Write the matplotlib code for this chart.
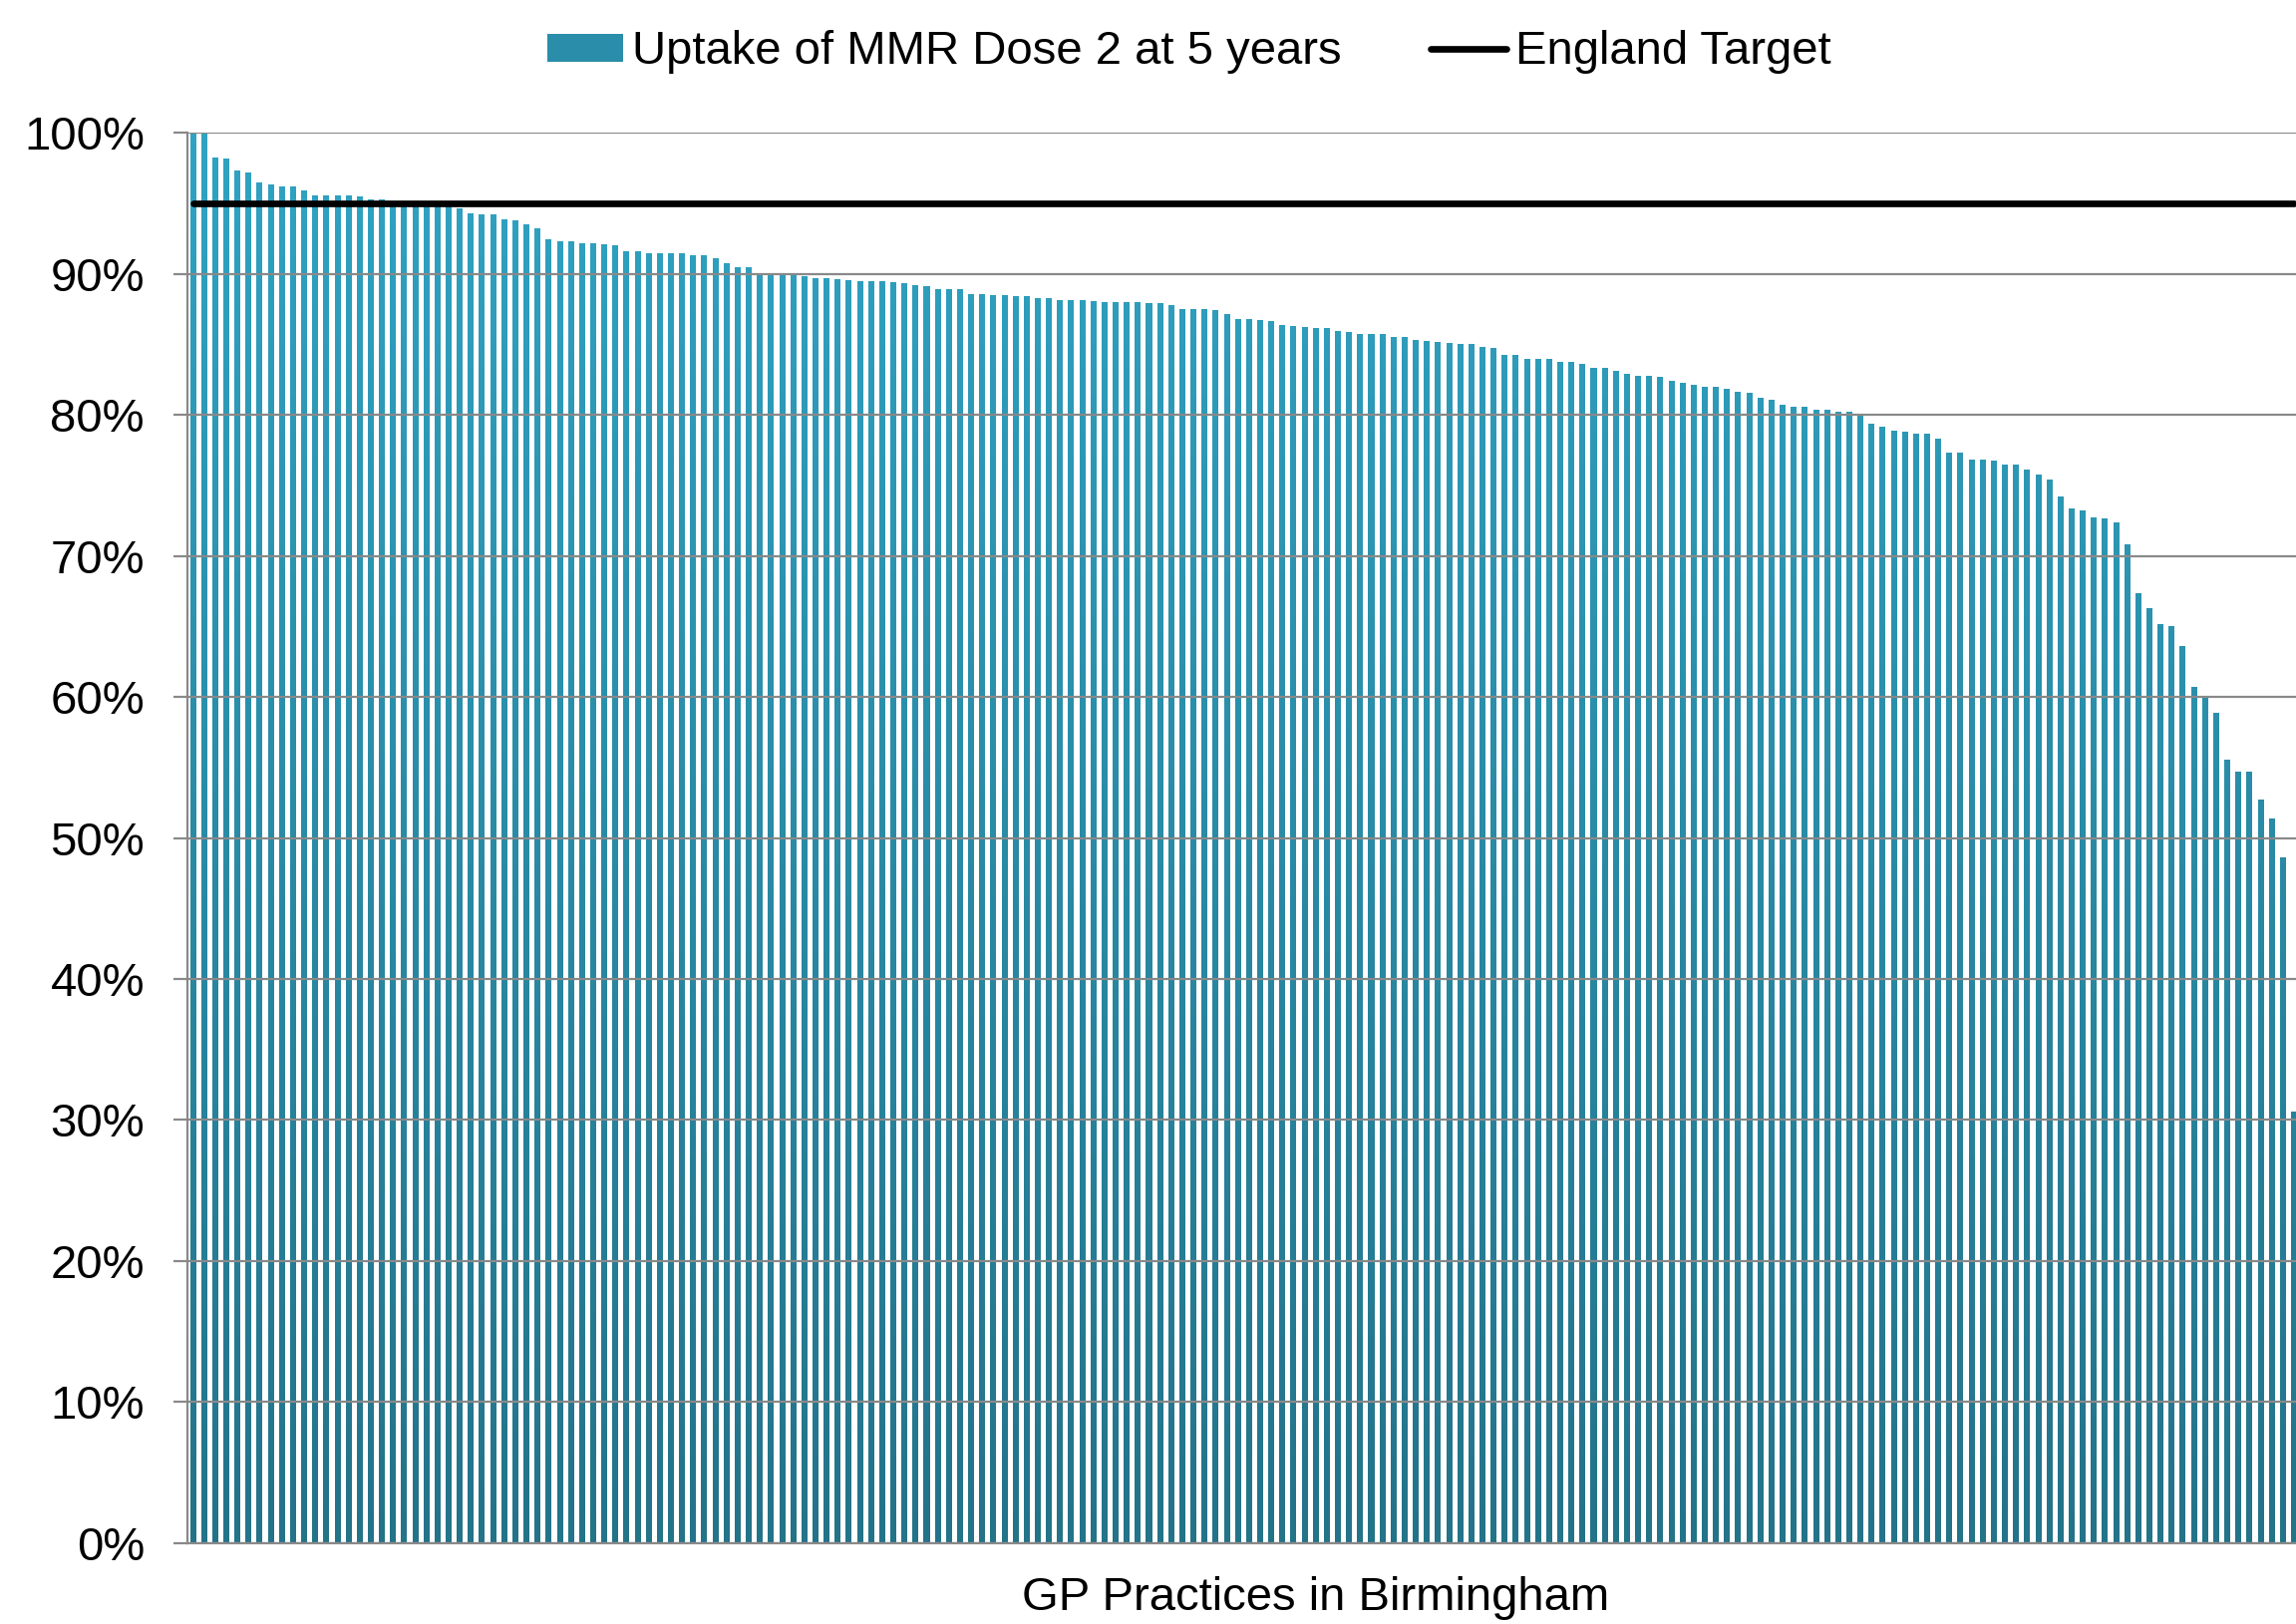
import numpy as np
import matplotlib
matplotlib.use("Agg")
import matplotlib.pyplot as plt
from matplotlib.path import Path
from matplotlib.patches import PathPatch
from matplotlib.colors import LinearSegmentedColormap

plt.rcParams['font.family'] = ['Liberation Sans', 'DejaVu Sans']

# Uptake of MMR dose 2 at 5 years, one value per GP practice (sorted, %)
uptake = [
    100.0, 100.0, 98.25, 98.2, 97.3, 97.2, 96.5, 96.35, 96.2, 96.2,
    95.9, 95.6, 95.6, 95.55, 95.55, 95.5, 95.3, 95.3, 95.1, 95.0,
    95.0, 95.0, 94.9, 94.9, 94.65, 94.3, 94.2, 94.2, 93.85, 93.8,
    93.55, 93.2, 92.45, 92.35, 92.3, 92.15, 92.15, 92.1, 92.0, 91.6,
    91.6, 91.5, 91.5, 91.45, 91.45, 91.35, 91.35, 91.1, 90.75, 90.5,
    90.5, 90.05, 90.05, 90.0, 90.0, 89.85, 89.7, 89.7, 89.65, 89.55,
    89.5, 89.5, 89.5, 89.45, 89.35, 89.2, 89.15, 88.95, 88.95, 88.95,
    88.6, 88.6, 88.5, 88.5, 88.45, 88.45, 88.3, 88.3, 88.15, 88.15,
    88.15, 88.1, 88.0, 88.0, 88.0, 88.0, 87.95, 87.95, 87.8, 87.5,
    87.5, 87.5, 87.45, 87.15, 86.8, 86.8, 86.75, 86.65, 86.4, 86.3,
    86.25, 86.15, 86.15, 85.95, 85.9, 85.75, 85.75, 85.75, 85.55, 85.55,
    85.3, 85.25, 85.2, 85.1, 85.05, 85.05, 84.8, 84.75, 84.25, 84.25,
    83.95, 83.95, 83.95, 83.75, 83.75, 83.6, 83.35, 83.35, 83.1, 82.9,
    82.75, 82.75, 82.7, 82.4, 82.25, 82.15, 82.0, 82.0, 81.85, 81.65,
    81.55, 81.25, 81.1, 80.75, 80.6, 80.55, 80.35, 80.35, 80.2, 80.2,
    80.0, 79.35, 79.15, 78.9, 78.8, 78.7, 78.7, 78.3, 77.35, 77.35,
    76.8, 76.8, 76.75, 76.5, 76.45, 76.15, 75.75, 75.45, 74.25, 73.4,
    73.25, 72.7, 72.65, 72.35, 70.8, 67.35, 66.3, 65.2, 65.0, 63.6,
    60.7, 60.0, 58.85, 55.55, 54.7, 54.7, 52.7, 51.4, 48.6, 30.6,
]
england_target = 95
n_slots = 203  # practices on the full axis (the picture is cut on the right)

y_ticks = list(range(0, 101, 10))
y_tick_labels = [f"{t}%" for t in y_ticks]

bar_light = "#30A3C3"
bar_dark = "#237389"
grid_col = "#898989"

fig = plt.figure(figsize=(23.03, 16.29), dpi=100)
ax = fig.add_axes([188 / 2303, 81.3 / 1629, (2451.5 - 188) / 2303, 1414.4 / 1629])

x = np.arange(len(uptake))
bars = ax.bar(x, uptake, width=0.54, color="#2A8DA9", linewidth=0, zorder=2,
              label="Uptake of MMR Dose 2 at 5 years")

# vertical gradient fill, clipped to the bar shapes
paths = []
for b in bars:
    x0, w, h = b.get_x(), b.get_width(), b.get_height()
    paths.append(Path([(x0, 0), (x0 + w, 0), (x0 + w, h), (x0, h), (x0, 0)],
                      [Path.MOVETO, Path.LINETO, Path.LINETO, Path.LINETO, Path.CLOSEPOLY]))
clip = PathPatch(Path.make_compound_path(*paths), transform=ax.transData)
cmap = LinearSegmentedColormap.from_list("bar_grad", [bar_dark, bar_light])
grad = np.linspace(0, 1, 256).reshape(-1, 1)
im = ax.imshow(grad, cmap=cmap, origin="lower", aspect="auto",
               extent=[-0.5, n_slots - 0.5, 0, 100], zorder=2.2)
im.set_clip_path(clip)

target_line, = ax.plot(x, np.full(len(x), england_target), color="black", linewidth=4.8,
                       solid_capstyle="round", zorder=4, label="England Target")

ax.set_xlim(-0.5, n_slots - 0.5)
ax.set_ylim(0, 100)
ax.set_yticks(y_ticks)
ax.set_yticklabels(y_tick_labels)
ax.set_xticks([])

ax.set_axisbelow(False)
ax.yaxis.grid(True, color=grid_col, linewidth=1.6, zorder=2.5)
for side in ["top", "right"]:
    ax.spines[side].set_visible(False)
for side in ["left", "bottom"]:
    ax.spines[side].set_color(grid_col)
    ax.spines[side].set_linewidth(1.6)
ax.tick_params(axis="y", length=10, width=1.6, color=grid_col, labelsize=34, pad=21)

ax.set_xlabel("GP Practices in Birmingham", fontsize=34)
ax.xaxis.set_label_coords(0.5, -0.0235)

fig.legend(handles=[bars, target_line], loc="center", bbox_to_anchor=(0.518, 0.9678),
           ncol=2, frameon=False, fontsize=34, handlelength=1.6, handleheight=0.55,
           handletextpad=0.2, columnspacing=1.9)

fig.savefig("out.png", dpi=100)
